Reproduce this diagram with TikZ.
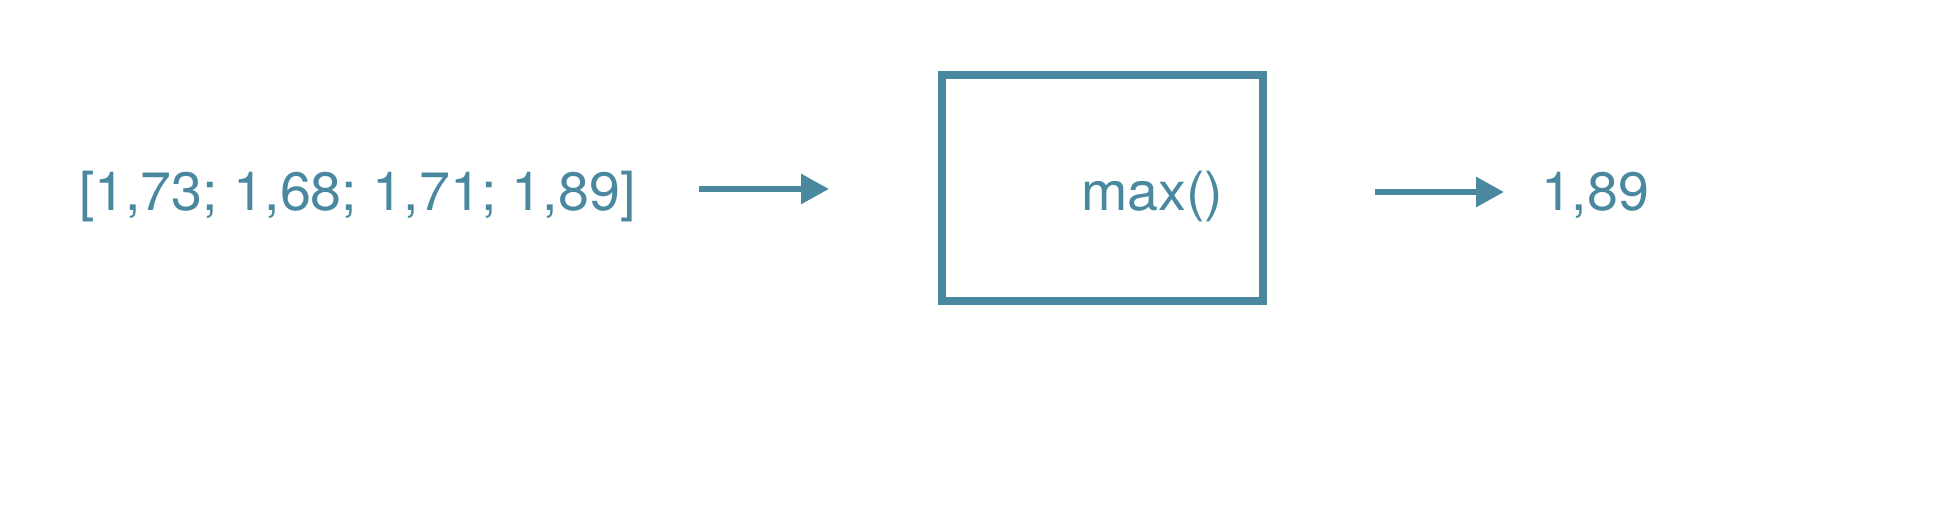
\documentclass[tikz,border=0pt]{standalone}
\usepackage{fontspec}
\setmainfont{TeX Gyre Heros}
\usetikzlibrary{arrows.meta}
\definecolor{steel}{RGB}{74,136,160}
\tikzset{
  lbl/.style={inner sep=0pt, outer sep=0pt, text=steel, xscale=1.03, font=\fontsize{27}{31}\selectfont},
  conn/.style={draw=steel, line width=3pt, -{Triangle[length=14pt,width=14.5pt]}},
  fbox/.style={draw=steel, line width=4pt}
}
\begin{document}
\begin{tikzpicture}[x=0.5pt,y=-0.5pt]
\fill[white] (0,0) rectangle (1945,528);
\useasboundingbox (0,0) rectangle (1945,528);
\node[lbl, anchor=base west] (inp) at (79,211) {[1,73; 1,68; 1,71; 1,89]};
\draw[fbox] (942,75) rectangle (1263,301);
\node[lbl, anchor=base west] (fn) at (1081,211) {max()};
\node[lbl, anchor=base west] (out) at (1541,211) {1,89};
\coordinate (a1s) at (699,189);
\coordinate (a1e) at (829,189);
\coordinate (a2s) at (1375,192);
\coordinate (a2e) at (1504,192);
\draw[conn] (a1s) -- (a1e);
\draw[conn] (a2s) -- (a2e);
\end{tikzpicture}
\end{document}
